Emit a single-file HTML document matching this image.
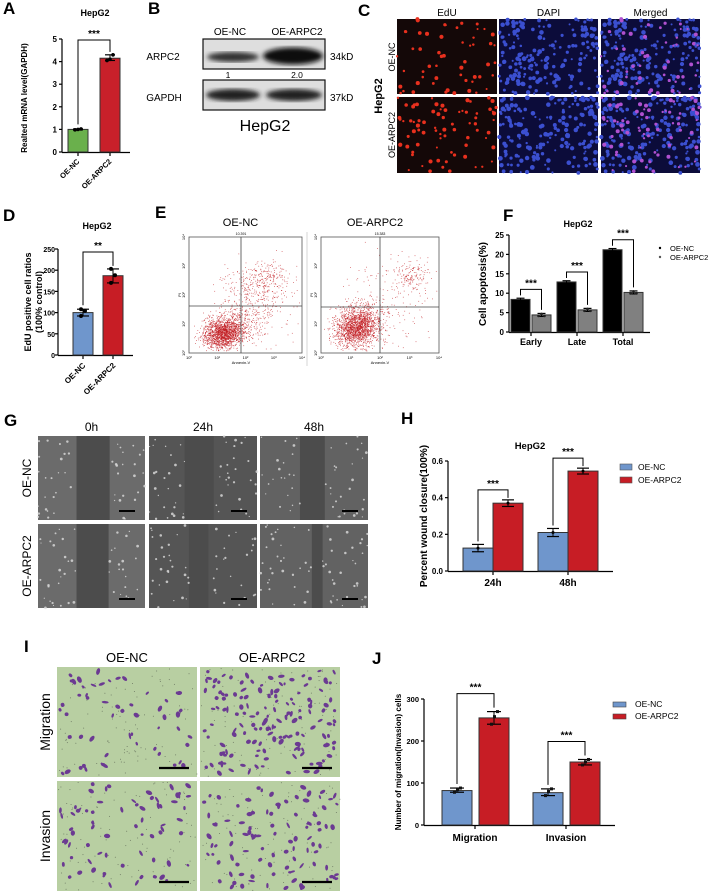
<!DOCTYPE html>
<html><head><meta charset="utf-8"><style>
html,body{margin:0;padding:0;background:#fff;}
svg{display:block;font-family:"Liberation Sans",Arial,sans-serif;}
</style></head><body>
<svg id="fig" width="708" height="892" viewBox="0 0 708 892" xmlns="http://www.w3.org/2000/svg">
<defs>
<filter id="blur1"><feGaussianBlur stdDeviation="2.5"/></filter>
</defs>
</svg>
<script>
// ---------- chart data ----------
const aCategories = ["OE-NC", "OE-ARPC2"];
const aValues = [1.0, 4.15];
const aPoints = [[0.98, 1.0, 1.02], [4.05, 4.1, 4.3]];
const aTicks = [0, 1, 2, 3, 4, 5];

const dCategories = ["OE-NC", "OE-ARPC2"];
const dValues = [100, 187];
const dPoints = [[92, 104, 108], [170, 188, 203]];
const dTicks = [0, 50, 100, 150, 200, 250];

const fCategories = ["Early", "Late", "Total"];
const fNC = [8.4, 12.9, 21.2];
const fARPC2 = [4.4, 5.7, 10.2];
const fTicks = [0, 5, 10, 15, 20, 25];

const hCategories = ["24h", "48h"];
const hNC = [0.125, 0.21];
const hARPC2 = [0.37, 0.545];
const hErrNC = [0.02, 0.022];
const hErrARPC2 = [0.018, 0.016];
const hTicks = [0, 0.2, 0.4, 0.6];

const jCategories = ["Migration", "Invasion"];
const jNC = [82, 77];
const jARPC2 = [255, 150];
const jPtsNC = [[78, 84, 88], [70, 80, 86]];
const jPtsARPC2 = [[240, 258, 270], [143, 150, 156]];
const jTicks = [0, 100, 200, 300];

// ---------- helpers ----------
const NS = "http://www.w3.org/2000/svg";
const svg = document.getElementById('fig');
function mk(tag, attrs, parent) {
  const e = document.createElementNS(NS, tag);
  for (const k in attrs) e.setAttribute(k, attrs[k]);
  (parent || svg).appendChild(e);
  return e;
}
function txt(s, x, y, size, opts, parent) {
  opts = opts || {};
  const t = mk('text', {x: x, y: y, 'font-size': size, fill: opts.fill || '#000',
    'text-anchor': opts.anchor || 'start', 'font-weight': opts.bold ? 'bold' : 'normal'}, parent);
  if (opts.rot !== undefined) t.setAttribute('transform', 'rotate(' + opts.rot + ' ' + x + ' ' + y + ')');
  t.textContent = s;
  return t;
}
function line(x1, y1, x2, y2, w, c, parent) {
  return mk('line', {x1: x1, y1: y1, x2: x2, y2: y2, stroke: c || '#000', 'stroke-width': w || 1}, parent);
}
let seed = 12345;
function rnd() { seed = (seed * 1103515245 + 12345) % 2147483648; return seed / 2147483648; }
function gauss() { let u = rnd() || 1e-6, v = rnd(); return Math.sqrt(-2 * Math.log(u)) * Math.cos(2 * Math.PI * v); }
function group(name) {
  const g = mk('g', {});
  
  
  return g;
}
function panelLetter(ch, x, y) {
  const t = txt(ch, x, y, 17, {bold: true});
  
  
}
function yAxis(g, x, yScale, ticks, fmt, size, gap) {
  gap = gap === undefined ? 5 : gap;
  line(x, yScale(ticks[0]) + 0.5, x, yScale(ticks[ticks.length - 1]), 1.2, '#000', g);
  ticks.forEach(t => {
    line(x - 3, yScale(t), x, yScale(t), 1.2, '#000', g);
    txt(fmt(t), x - gap, yScale(t) + 3, size || 8, {anchor: 'end', bold: true}, g);
  });
}
function bracket(g, x1, x2, yTop, y1, y2, stars) {
  mk('polyline', {points: x1 + ',' + y1 + ' ' + x1 + ',' + yTop + ' ' + x2 + ',' + yTop + ' ' + x2 + ',' + y2,
    fill: 'none', stroke: '#000', 'stroke-width': 1}, g);
  txt(stars, (x1 + x2) / 2, yTop - 3, 10, {anchor: 'middle', bold: true}, g);
}
function errbar(g, cx, yTop, yBot, hw) {
  line(cx, yTop, cx, yBot, 1, '#000', g);
  line(cx - hw, yTop, cx + hw, yTop, 1.2, '#000', g);
  line(cx - hw, yBot, cx + hw, yBot, 1.2, '#000', g);
}
function bar(g, name, x, w, y, y0, fill) {
  const r = mk('rect', {x: x, y: y, width: w, height: y0 - y, fill: fill, stroke: '#333', 'stroke-width': 1}, g);
  
  
  return r;
}

// ---------- Panel A ----------
(function(){
  panelLetter('A', 3, 14);
  const g = group('panel-a-chart');
  const yS = v => 152 - v * (113 / 5);
  txt('HepG2', 95, 16, 9, {anchor: 'middle', bold: true}, g);
  yAxis(g, 62, yS, aTicks, v => String(v), 8);
  line(62, 152.5, 130, 152.5, 1.2, '#000', g);
  const cx = [78, 110], cols = ['#6ab04c', '#c8202a'];
  aValues.forEach((v, i) => {
    bar(g, 'bar-a-' + aCategories[i].toLowerCase(), cx[i] - 10, 20, yS(v), 152, cols[i]);
    const p = aPoints[i], mn = Math.min(...p), mx = Math.max(...p);
    errbar(g, cx[i], yS(mx), yS(mn), 5);
    p.forEach((q, j) => mk('circle', {cx: cx[i] - 3 + j * 3, cy: yS(q), r: 1.8, fill: '#000'}, g));
    line(cx[i], 153, cx[i], 156, 1.2, '#000', g);
    txt(aCategories[i], cx[i] + 2, 162, 7.5, {anchor: 'end', bold: true, rot: -45}, g);
  });
  bracket(g, cx[0], cx[1], 40, yS(aValues[0]) - 5, yS(Math.max(...aPoints[1])) - 3, '***');
  txt('Realted mRNA level(GAPDH)', 27, 98, 8, {anchor: 'middle', bold: true, rot: -90}, g);
})();

// ---------- Panel B (western blot) ----------
(function(){
  panelLetter('B', 148, 14);
  const g = group('panel-b-western-blot');
  txt('OE-NC', 230, 35, 10, {anchor: 'middle'}, g);
  txt('OE-ARPC2', 297, 35, 10, {anchor: 'middle'}, g);
  [[39, 69], [80, 110]].forEach((r) => {
    mk('rect', {x: 203, y: r[0], width: 122, height: r[1] - r[0], fill: '#dedede', stroke: '#111', 'stroke-width': 1.2}, g);
  });
  mk('ellipse', {cx: 233, cy: 57, rx: 26, ry: 5, fill: '#333', filter: 'url(#blur1)'}, g);
  mk('ellipse', {cx: 293, cy: 56, rx: 30, ry: 8.5, fill: '#111', filter: 'url(#blur1)'}, g);
  mk('ellipse', {cx: 233, cy: 95, rx: 27, ry: 6, fill: '#222', filter: 'url(#blur1)'}, g);
  mk('ellipse', {cx: 294, cy: 95, rx: 28, ry: 6, fill: '#222', filter: 'url(#blur1)'}, g);
  txt('ARPC2', 163, 60, 10, {anchor: 'middle'}, g);
  txt('GAPDH', 164, 101, 10, {anchor: 'middle'}, g);
  txt('34kD', 330, 60, 10, {}, g);
  txt('37kD', 330, 101, 10, {}, g);
  txt('1', 228, 78, 8.5, {anchor: 'middle'}, g);
  txt('2.0', 297, 78, 8.5, {anchor: 'middle'}, g);
  txt('HepG2', 265, 131, 16, {anchor: 'middle'}, g);
})();

// ---------- Panel C (EdU imaging) ----------
(function(){
  panelLetter('C', 358, 16);
  const g = group('panel-c-edu-images');
  const cols = [[397, 497], [499, 598], [601, 700]];
  const rows = [[19, 94], [97, 173]];
  const heads = ['EdU', 'DAPI', 'Merged'];
  cols.forEach((c, i) => txt(heads[i], (c[0] + c[1]) / 2, 16, 10, {anchor: 'middle'}, g));
  rows.forEach((r, ri) => {
    seed = 100 + ri * 7;
    const blue = [], red = [];
    for (let k = 0; k < 190; k++) blue.push([rnd(), rnd(), 1 + rnd() * 1.4]);
    for (let k = 0; k < (ri ? 75 : 55); k++) red.push([rnd(), rnd(), 1 + rnd() * 1.1]);
    cols.forEach((c, ci) => {
      const w = c[1] - c[0], h = r[1] - r[0];
      const bg = ci === 0 ? '#140808' : '#0c0c3a';
      mk('rect', {x: c[0], y: r[0], width: w, height: h, fill: bg}, g);
      if (ci > 0) blue.forEach(d => mk('circle', {cx: c[0] + d[0] * w, cy: r[0] + d[1] * h, r: d[2], fill: '#3b4fd0'}, g));
      red.forEach(d => {
        if (ci === 0) mk('circle', {cx: c[0] + d[0] * w, cy: r[0] + d[1] * h, r: d[2], fill: '#e8301e'}, g);
        if (ci === 2) mk('circle', {cx: c[0] + d[0] * w, cy: r[0] + d[1] * h, r: d[2], fill: '#b050d0'}, g);
      });
    });
  });
  txt('HepG2', 382, 96, 11, {anchor: 'middle', bold: true, rot: -90}, g);
  txt('OE-NC', 395, 57, 9, {anchor: 'middle', rot: -90}, g);
  txt('OE-ARPC2', 395, 135, 9, {anchor: 'middle', rot: -90}, g);
})();

// ---------- Panel D ----------
(function(){
  panelLetter('D', 3, 221);
  const g = group('panel-d-chart');
  const yS = v => 355 - v * (106 / 250);
  txt('HepG2', 97, 229, 9, {anchor: 'middle', bold: true}, g);
  yAxis(g, 58, yS, dTicks, v => String(v), 7, 3);
  line(58, 355.5, 133, 355.5, 1.2, '#000', g);
  const cx = [83, 113], cols = ['#6f96cc', '#c71d25'];
  dValues.forEach((v, i) => {
    bar(g, 'bar-d-' + dCategories[i].toLowerCase(), cx[i] - 10, 20, yS(v), 355, cols[i]);
    const p = dPoints[i], mn = Math.min(...p), mx = Math.max(...p);
    errbar(g, cx[i], yS(mx), yS(mn), 6);
    p.forEach((q, j) => mk('circle', {cx: cx[i] - 2 + (j % 2) * 4, cy: yS(q), r: 2, fill: '#000'}, g));
    line(cx[i], 356, cx[i], 359, 1.2, '#000', g);
    txt(dCategories[i], cx[i] + 3, 366, 8, {anchor: 'end', bold: true, rot: -45}, g);
  });
  bracket(g, cx[0], cx[1], 252, yS(Math.max(...dPoints[0])) - 4, yS(Math.max(...dPoints[1])) - 3, '**');
  txt('EdU positive cell ratios', 31, 302, 9, {anchor: 'middle', bold: true, rot: -90}, g);
  txt('(100% control)', 42, 302, 9, {anchor: 'middle', bold: true, rot: -90}, g);
})();

// ---------- Panel E (flow cytometry) ----------
(function(){
  panelLetter('E', 155, 218);
  const g = group('panel-e-flow-cytometry');
  const plots = [
    {x0: 189, x1: 302, y0: 237, y1: 353, vx: 241, hy: 306, title: 'OE-NC', lab: '10.391',
     clusters: [[0.30, 0.83, 0.08, 0.06, 1500], [0.42, 0.75, 0.12, 0.08, 300], [0.63, 0.38, 0.12, 0.08, 260], [0.6, 0.55, 0.15, 0.15, 250]]},
    {x0: 321, x1: 439, y0: 237, y1: 353, vx: 380, hy: 307, title: 'OE-ARPC2', lab: '15.383',
     clusters: [[0.32, 0.76, 0.09, 0.08, 1500], [0.25, 0.82, 0.08, 0.05, 300], [0.77, 0.33, 0.07, 0.05, 120], [0.6, 0.5, 0.18, 0.18, 180]]}
  ];
  line(307, 232, 307, 366, 0.8, '#ccc', g);
  seed = 999;
  plots.forEach(p => {
    const w = p.x1 - p.x0, h = p.y1 - p.y0;
    txt(p.title, (p.x0 + p.x1) / 2 - 5, 226, 11, {anchor: 'middle'}, g);
    mk('rect', {x: p.x0, y: p.y0, width: w, height: h, fill: '#fff', stroke: '#555', 'stroke-width': 0.8}, g);
    p.clusters.forEach(c => {
      for (let k = 0; k < c[4]; k++) {
        const gx = gauss(), gy = gauss();
        const fx = c[0] + c[2] * gx + c[2] * 0.4 * gy;
        const fy = c[1] + c[3] * gy - c[3] * 0.5 * gx;
        if (fx < 0.02 || fx > 0.98 || fy < 0.02 || fy > 0.98) continue;
        mk('rect', {x: (p.x0 + fx * w).toFixed(1), y: (p.y0 + fy * h).toFixed(1), width: 0.8, height: 0.8, fill: '#c0181e', 'fill-opacity': 0.75}, g);
      }
    });
    line(p.vx, p.y0, p.vx, p.y1, 0.8, '#444', g);
    line(p.x0, p.hy, p.x1, p.hy, 0.8, '#444', g);
    txt(p.lab, p.vx, p.y0 - 2, 3.5, {anchor: 'middle'}, g);
    ['10⁰', '10¹', '10²', '10³', '10⁴'].forEach((s, i) => {
      txt(s, p.x0 + i * w / 4, p.y1 + 6, 4, {anchor: 'middle'}, g);
      txt(s, p.x0 - 4, p.y1 - i * h / 4, 4, {anchor: 'middle', rot: -90}, g);
    });
    txt('Annexin-V', p.vx, p.y1 + 11, 4, {anchor: 'middle'}, g);
    txt('PI', p.x0 - 8, (p.y0 + p.y1) / 2, 4, {anchor: 'middle', rot: -90}, g);
  });
})();

// ---------- Panel F ----------
(function(){
  panelLetter('F', 503, 221);
  const g = group('panel-f-chart');
  const yS = v => 332 - v * (97 / 25);
  txt('HepG2', 578, 227, 9, {anchor: 'middle', bold: true}, g);
  yAxis(g, 509, yS, fTicks, v => String(v), 8);
  line(509, 332.5, 650, 332.5, 1.2, '#000', g);
  const gx = [531, 577, 623];
  fCategories.forEach((c, i) => {
    const x1 = gx[i] - 10.5, x2 = gx[i] + 10.5;
    bar(g, 'bar-f-nc-' + c.toLowerCase(), x1 - 9.5, 19, yS(fNC[i]), 332, '#000');
    bar(g, 'bar-f-arpc2-' + c.toLowerCase(), x2 - 9.5, 19, yS(fARPC2[i]), 332, '#808080');
    errbar(g, x1, yS(fNC[i]) - 1.2, yS(fNC[i]) + 1.2, 4);
    errbar(g, x2, yS(fARPC2[i]) - 1.5, yS(fARPC2[i]) + 1.5, 4);
    [-3, 0, 3].forEach(d => mk('circle', {cx: x2 + d, cy: yS(fARPC2[i]) + (d ? 1 : -1), r: 1.3, fill: '#222'}, g));
    line(gx[i], 333, gx[i], 336, 1.2, '#000', g);
    txt(c, gx[i], 345, 9, {anchor: 'middle', bold: true}, g);
    bracket(g, x1, x2, yS(fNC[i]) - 10, yS(fNC[i]) - 4, yS(fARPC2[i]) - 5, '***');
  });
  txt('Cell apoptosis(%)', 486, 284, 10, {anchor: 'middle', bold: true, rot: -90}, g);
  const l1 = mk('g', {}, g);
  
  
  mk('circle', {cx: 660, cy: 248, r: 1.2, fill: '#000'}, l1);
  txt('OE-NC', 670, 251, 7.5, {}, l1);
  const l2 = mk('g', {}, g);
  
  
  mk('circle', {cx: 660, cy: 257, r: 1.2, fill: '#555'}, l2);
  txt('OE-ARPC2', 670, 260, 7.5, {}, l2);
})();

// ---------- Panel G (wound healing images) ----------
(function(){
  panelLetter('G', 4, 426);
  const g = group('panel-g-wound-images');
  const cols = [[38, 145], [149, 257], [260, 368]];
  const rows = [[436, 520], [524, 608]];
  const heads = ['0h', '24h', '48h'];
  const gaps = [[[0.36, 0.67], [0.33, 0.6], [0.37, 0.6]], [[0.36, 0.66], [0.37, 0.55], [0.48, 0.58]]];
  const bgs = ['#6b6b6b', '#555', '#626262'];
  cols.forEach((c, i) => txt(heads[i], (c[0] + c[1]) / 2, 431, 12, {anchor: 'middle'}, g));
  seed = 4242;
  rows.forEach((r, ri) => cols.forEach((c, ci) => {
    const w = c[1] - c[0], h = r[1] - r[0], gp = gaps[ri][ci];
    mk('rect', {x: c[0], y: r[0], width: w, height: h, fill: bgs[ci]}, g);
    mk('rect', {x: c[0] + gp[0] * w, y: r[0], width: (gp[1] - gp[0]) * w, height: h, fill: '#4c4c4c'}, g);
    for (let k = 0; k < 70; k++) {
      const fx = rnd(); if (fx > gp[0] && fx < gp[1]) continue;
      mk('circle', {cx: c[0] + fx * w, cy: r[0] + rnd() * h, r: 0.6 + rnd() * 0.8, fill: '#ddd', 'fill-opacity': 0.8}, g);
    }
    line(c[1] - 26, r[1] - 9, c[1] - 10, r[1] - 9, 2, '#000', g);
  }));
  txt('OE-NC', 31, 478, 12, {anchor: 'middle', rot: -90}, g);
  txt('OE-ARPC2', 31, 566, 12, {anchor: 'middle', rot: -90}, g);
})();

// ---------- Panel H ----------
(function(){
  panelLetter('H', 401, 424);
  const g = group('panel-h-chart');
  const yS = v => 571 - v * (110 / 0.6);
  txt('HepG2', 530, 449, 9.5, {anchor: 'middle', bold: true}, g);
  yAxis(g, 448, yS, hTicks, v => v.toFixed(1), 8);
  line(448, 571.5, 613, 571.5, 1.2, '#000', g);
  const gx = [493, 568];
  hCategories.forEach((c, i) => {
    const x1 = gx[i] - 15, x2 = gx[i] + 15;
    bar(g, 'bar-h-nc-' + c, x1 - 15, 30, yS(hNC[i]), 571, '#6f96cc');
    bar(g, 'bar-h-arpc2-' + c, x2 - 15, 30, yS(hARPC2[i]), 571, '#c71d25');
    errbar(g, x1, yS(hNC[i] + hErrNC[i]), yS(hNC[i] - hErrNC[i]), 6);
    errbar(g, x2, yS(hARPC2[i] + hErrARPC2[i]), yS(hARPC2[i] - hErrARPC2[i]), 6);
    mk('circle', {cx: x1, cy: yS(hNC[i]), r: 1.5, fill: '#000'}, g);
    mk('circle', {cx: x2, cy: yS(hARPC2[i]), r: 1.5, fill: '#000'}, g);
    line(gx[i], 572, gx[i], 575, 1.2, '#000', g);
    txt(c, gx[i], 586, 10, {anchor: 'middle', bold: true}, g);
    bracket(g, x1, x2, yS(hARPC2[i] + hErrARPC2[i]) - 10, yS(hNC[i] + hErrNC[i]) - 3, yS(hARPC2[i] + hErrARPC2[i]) - 2, '***');
  });
  txt('Percent wound closure(100%)', 427, 516, 10, {anchor: 'middle', bold: true, rot: -90}, g);
  const l1 = mk('g', {}, g);
  
  
  mk('rect', {x: 620, y: 464, width: 12, height: 6, fill: '#6f96cc', stroke: '#555', 'stroke-width': 0.6}, l1);
  txt('OE-NC', 638, 470, 8.5, {}, l1);
  const l2 = mk('g', {}, g);
  
  
  mk('rect', {x: 620, y: 477, width: 12, height: 6, fill: '#c71d25', stroke: '#555', 'stroke-width': 0.6}, l2);
  txt('OE-ARPC2', 638, 483, 8.5, {}, l2);
})();

// ---------- Panel I (transwell images) ----------
(function(){
  panelLetter('I', 24, 652);
  const g = group('panel-i-transwell-images');
  const cols = [[57, 197], [200, 340]];
  const rows = [[667, 777], [781, 891]];
  txt('OE-NC', 127, 662, 13, {anchor: 'middle'}, g);
  txt('OE-ARPC2', 272, 662, 13, {anchor: 'middle'}, g);
  const counts = [[55, 150], [70, 100]];
  seed = 777;
  rows.forEach((r, ri) => cols.forEach((c, ci) => {
    const w = c[1] - c[0], h = r[1] - r[0];
    mk('rect', {x: c[0], y: r[0], width: w, height: h, fill: '#b8cfa2'}, g);
    for (let k = 0; k < 90; k++) mk('circle', {cx: c[0] + rnd() * w, cy: r[0] + rnd() * h, r: 0.5, fill: '#6a7560'}, g);
    for (let k = 0; k < counts[ri][ci]; k++) {
      const cx = c[0] + 3 + rnd() * (w - 6), cy = r[0] + 3 + rnd() * (h - 6);
      mk('ellipse', {cx: cx, cy: cy, rx: 1.5 + rnd() * 2, ry: 1 + rnd() * 1.2, fill: '#6b3a92',
        transform: 'rotate(' + Math.floor(rnd() * 180) + ' ' + cx.toFixed(1) + ' ' + cy.toFixed(1) + ')'}, g);
    }
    line(c[1] - 38, r[1] - 9, c[1] - 8, r[1] - 9, 2.2, '#000', g);
  }));
  txt('Migration', 50, 722, 14, {anchor: 'middle', rot: -90}, g);
  txt('Invasion', 50, 836, 14, {anchor: 'middle', rot: -90}, g);
})();

// ---------- Panel J ----------
(function(){
  panelLetter('J', 372, 664);
  const g = group('panel-j-chart');
  const yS = v => 825 - v * (126 / 300);
  yAxis(g, 424, yS, jTicks, v => String(v), 7.5);
  line(424, 825.5, 615, 825.5, 1.2, '#000', g);
  const gx = [475, 566];
  jCategories.forEach((c, i) => {
    const x1 = gx[i] - 18, x2 = gx[i] + 19;
    bar(g, 'bar-j-nc-' + c.toLowerCase(), x1 - 15, 30, yS(jNC[i]), 825, '#6f96cc');
    bar(g, 'bar-j-arpc2-' + c.toLowerCase(), x2 - 15, 30, yS(jARPC2[i]), 825, '#c71d25');
    [[x1, jPtsNC[i]], [x2, jPtsARPC2[i]]].forEach(pp => {
      const mn = Math.min(...pp[1]), mx = Math.max(...pp[1]);
      errbar(g, pp[0], yS(mx), yS(mn), 7);
      pp[1].forEach((q, j) => mk('rect', {x: pp[0] - 4 + j * 3, y: yS(q) - 1.5, width: 3, height: 3, fill: '#111'}, g));
    });
    line(gx[i], 826, gx[i], 829, 1.2, '#000', g);
    txt(c, gx[i], 841, 10, {anchor: 'middle', bold: true}, g);
    bracket(g, x1, x2, yS(Math.max(...jPtsARPC2[i])) - 18, yS(Math.max(...jPtsNC[i])) - 4, yS(Math.max(...jPtsARPC2[i])) - 4, '***');
  });
  txt('Number of migration(Invasion) cells', 401, 762, 8, {anchor: 'middle', bold: true, rot: -90}, g);
  const l1 = mk('g', {}, g);
  
  
  mk('rect', {x: 613, y: 702, width: 13, height: 5, fill: '#6f96cc', stroke: '#444', 'stroke-width': 0.6}, l1);
  txt('OE-NC', 635, 707, 8.5, {}, l1);
  const l2 = mk('g', {}, g);
  
  
  mk('rect', {x: 613, y: 714, width: 13, height: 5, fill: '#c71d25', stroke: '#444', 'stroke-width': 0.6}, l2);
  txt('OE-ARPC2', 635, 719, 8.5, {}, l2);
})();
</script>
</body></html>
